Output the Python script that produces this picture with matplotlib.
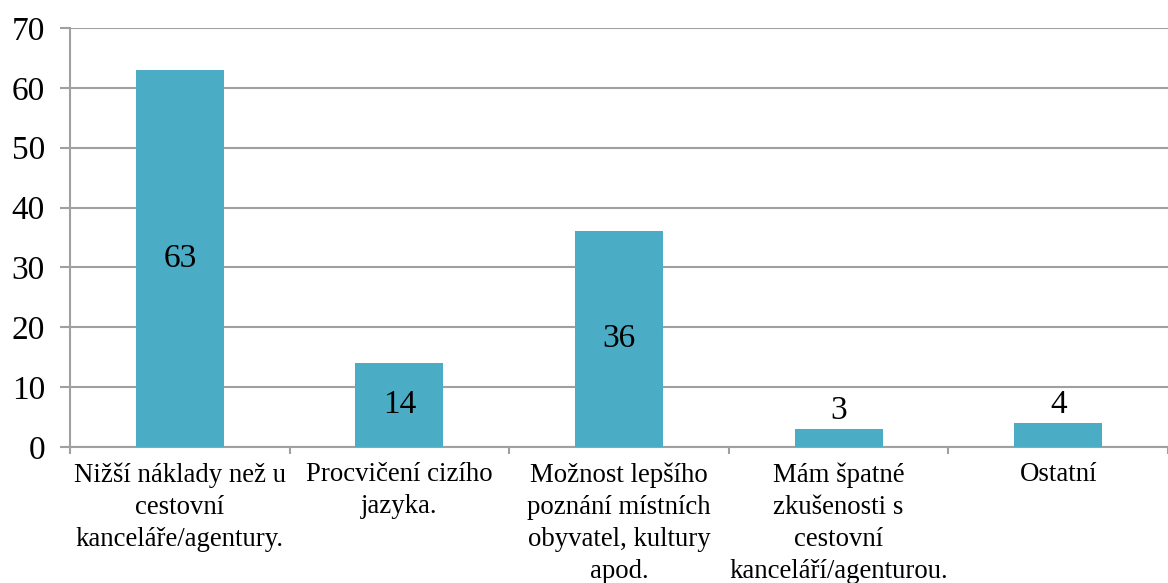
import matplotlib.pyplot as plt
import numpy as np

plt.rcParams['font.family'] = ['Liberation Serif', 'DejaVu Serif']

categories = [
    'Nižší náklady než u\ncestovní\nkanceláře/agentury.',
    'Procvičení cizího\njazyka.',
    'Možnost lepšího\npoznání místních\nobyvatel, kultury\napod.',
    'Mám špatné\nzkušenosti s\ncestovní\nkanceláří/agenturou.',
    'Ostatní',
]
values = [63, 14, 36, 3, 4]
yticks = [0, 10, 20, 30, 40, 50, 60, 70]

bar_color = '#4BACC6'
grid_color = '#A0A0A0'

fig = plt.figure(figsize=(11.68, 5.83), dpi=100)
ax = fig.add_axes([0.0599, 0.2333, 0.9401, 0.7187])

x = np.arange(len(categories))
bars = ax.bar(x, values, width=0.4, color=bar_color, zorder=3)

# labels: inside for the tall bars, on top for the short ones
inside = [str(v) if v >= 10 else '' for v in values]
outside = [str(v) if v < 10 else '' for v in values]
ax.bar_label(bars, labels=inside, label_type='center', fontsize=24, color='black')
ax.bar_label(bars, labels=outside, label_type='edge', padding=2, fontsize=24, color='black')

ax.set_xlim(-0.5, len(categories) - 0.5)
ax.set_ylim(0, 70)
ax.set_yticks(yticks)
ax.tick_params(axis='y', labelsize=24, length=7, width=1.5, color=grid_color, pad=11)

ax.set_xticks(x)
ax.set_xticklabels(categories, fontsize=19.3, linespacing=1.37)
ax.set_xticks(np.arange(-0.5, len(categories), 1.0), minor=True)
ax.tick_params(axis='x', which='major', length=0, pad=11)
ax.tick_params(axis='x', which='minor', length=5, width=1.5, color=grid_color)

ax.yaxis.grid(True, color=grid_color, linewidth=1.5, zorder=0)
for s in ['top', 'right']:
    ax.spines[s].set_visible(False)
for s in ['left', 'bottom']:
    ax.spines[s].set_color(grid_color)
    ax.spines[s].set_linewidth(1.5)

fig.savefig('out.png', dpi=100)
